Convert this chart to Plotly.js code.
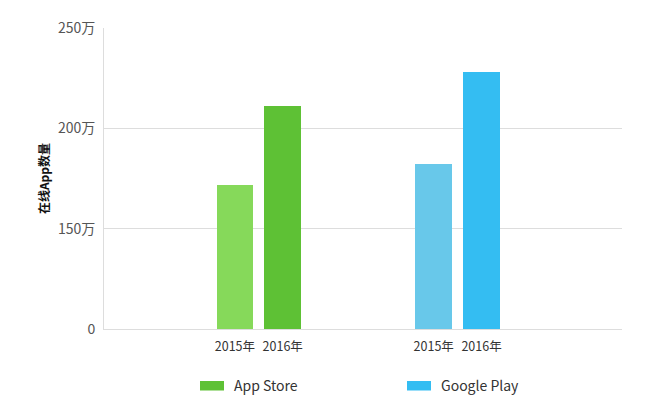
<!DOCTYPE html>
<html>
<head>
<meta charset="utf-8">
<script src="https://cdn.plot.ly/plotly-3.0.1.min.js"></script>
<style>html,body{margin:0;padding:0;background:#fff;}#chart{width:656px;height:406px;}</style>
</head>
<body>
<div id="chart"></div>
<script>
// Data
const stores = ['App Store', 'Google Play'];
const years = ['2015年', '2016年'];
const appStoreValues = [172, 211];      // 万
const googlePlayValues = [182, 228];    // 万
const yTickValues = [100, 150, 200, 250];
const yTickLabels = ['0', '150万', '200万', '250万'];

// Layout / style (positions computed, not data)
const W = 656, H = 406;
const M = {l: 104, r: 34, t: 28, b: 77};
const plotW = W - M.l - M.r, plotH = H - M.t - M.b;
const px2x = px => (px - M.l) / plotW;
const py2y = py => (H - M.b - py) / plotH;

const groupCenters = [3.24, 7.40];
const barStep = 1.0;
const barWidth = 0.77;
const colors = {
  'App Store': ['#86d95a', '#5ec135'],
  'Google Play': ['#68c8ea', '#34bdf2']
};
const legendColors = {'App Store': '#5ec135', 'Google Play': '#34bdf2'};
const legendSwatchLeft = [200, 407];
const seriesValues = [appStoreValues, googlePlayValues];

const font = '"Noto Sans CJK SC", "Noto Sans", sans-serif';
const traces = [];
const tickvals = [], ticktext = [];
const shapes = [], annotations = [];
stores.forEach((s, i) => {
  const xs = years.map((y, j) => groupCenters[i] + (j - (years.length - 1) / 2) * barStep);
  xs.forEach((x, j) => { tickvals.push(x); ticktext.push(years[j]); });
  traces.push({
    type: 'bar',
    name: s,
    x: xs,
    y: seriesValues[i],
    width: barWidth,
    marker: {color: colors[s], line: {width: 0}},
    hoverinfo: 'skip',
    showlegend: false
  });
  // custom legend entry
  const lx = legendSwatchLeft[i];
  shapes.push({
    type: 'rect', xref: 'paper', yref: 'paper',
    x0: px2x(lx), x1: px2x(lx + 24),
    y0: py2y(390.5), y1: py2y(381),
    fillcolor: legendColors[s], line: {width: 0}
  });
  annotations.push({
    xref: 'paper', yref: 'paper',
    x: px2x(lx + 32), y: py2y(385),
    xanchor: 'left', yanchor: 'middle',
    text: s, showarrow: false,
    font: {size: 14, color: '#333', family: font}
  });
});

const layout = {
  width: W,
  height: H,
  margin: Object.assign({autoexpand: false}, M),
  paper_bgcolor: '#ffffff',
  plot_bgcolor: '#ffffff',
  font: {family: font, color: '#333'},
  showlegend: false,
  shapes: shapes,
  annotations: annotations,
  xaxis: {
    range: [0, 10.84],
    tickmode: 'array',
    tickvals: tickvals,
    ticktext: ticktext,
    ticks: '',
    showgrid: false,
    zeroline: false,
    showline: true,
    linecolor: '#dddddd',
    linewidth: 1,
    ticklabelstandoff: 6,
    tickfont: {size: 12.5, color: '#333', family: font},
    fixedrange: true
  },
  yaxis: {
    range: [100, 250],
    tickmode: 'array',
    tickvals: yTickValues,
    ticktext: yTickLabels,
    showgrid: true,
    gridcolor: '#dddddd',
    gridwidth: 1,
    zeroline: false,
    showline: true,
    linecolor: '#dddddd',
    linewidth: 1,
    ticks: '',
    ticklabelstandoff: 5,
    tickfont: {size: 14, color: '#555', family: font},
    title: {text: '<b>在线App数量</b>', font: {size: 12, color: '#111', family: font}, standoff: 5},
    fixedrange: true
  },
  bargap: 0
};

Plotly.newPlot('chart', traces, layout, {displayModeBar: false, staticPlot: true});
</script>
</body>
</html>
